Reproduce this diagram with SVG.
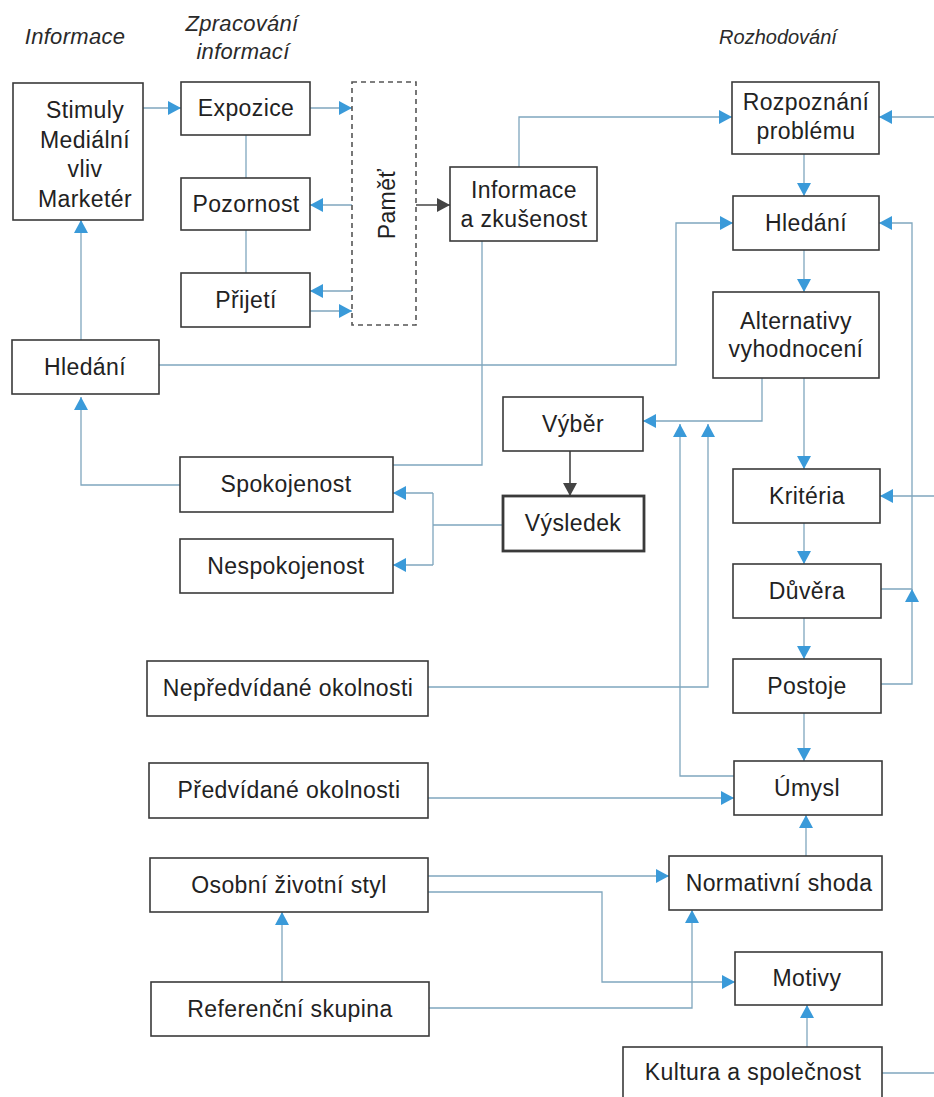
<svg xmlns="http://www.w3.org/2000/svg" width="934" height="1097" viewBox="0 0 934 1097">
<defs>
<style>
.box{fill:#fff;stroke:#3a3a3a;stroke-width:1.6}
.thick{stroke-width:2.8}
.dash{fill:#fff;stroke:#555;stroke-width:1.6;stroke-dasharray:5 4}
.t{font-family:"Liberation Sans",Arial,sans-serif;font-size:23px;fill:#222;text-anchor:middle;letter-spacing:0.4px}
.h{font-family:"Liberation Sans",Arial,sans-serif;font-size:22px;font-style:italic;fill:#2a2a2a;text-anchor:middle;letter-spacing:0.3px}
.c{fill:none;stroke:#7fa6be;stroke-width:1.3}
.a{marker-end:url(#ab)}
.d{fill:none;stroke:#444;stroke-width:1.6;marker-end:url(#ad)}
</style>
<marker id="ab" markerUnits="userSpaceOnUse" markerWidth="14" markerHeight="14" refX="13" refY="7" orient="auto"><path d="M0,0 L13,7 L0,14 z" fill="#3a9ad9"/></marker>
<marker id="ad" markerUnits="userSpaceOnUse" markerWidth="14" markerHeight="14" refX="13" refY="7" orient="auto"><path d="M0,0 L13,7 L0,14 z" fill="#444"/></marker>
</defs>
<rect width="934" height="1097" fill="#fff"/>

<g id="headers">
<text class="h" x="75" y="44">Informace</text>
<text class="h" x="242" y="31">Zpracování</text>
<text class="h" x="243" y="59">informací</text>
<text class="h" x="778" y="44" style="font-size:20px;letter-spacing:0">Rozhodování</text>
</g>

<g id="connectors">
<path class="c a" d="M143,108 H181"/>
<path class="c a" d="M310,108 H352"/>
<path class="c" d="M246,135 V178"/>
<path class="c" d="M246,230 V273"/>
<path class="c a" d="M352,205 H310"/>
<path class="c a" d="M352,291 H310"/>
<path class="c a" d="M310,311 H352"/>
<path class="d" d="M416,205 H450"/>
<path class="c a" d="M519,167 V117 H732"/>
<path class="c a" d="M934,117 H879"/>
<path class="c a" d="M804,154 V196"/>
<path class="c a" d="M159,365 H676 V223 H733"/>
<path class="c a" d="M804,250 V292"/>
<path class="c a" d="M762,378 V421 H643"/>
<path class="c a" d="M804,378 V469"/>
<path class="c a" d="M734,776 H680 V424"/>
<path class="c a" d="M428,687 H708 V424"/>
<path class="c" d="M482,241 V465 H393"/>
<path class="c a" d="M180,485 H81 V397"/>
<path class="c a" d="M81,340 V220"/>
<path class="d" d="M570,451 V496"/>
<path class="c" d="M503,525 H433 M433,493 V565"/>
<path class="c a" d="M433,493 H393"/>
<path class="c a" d="M433,565 H393"/>
<path class="c a" d="M934,496 H880"/>
<path class="c a" d="M804,523 V564"/>
<path class="c a" d="M804,618 V659"/>
<path class="c a" d="M804,713 V761"/>
<path class="c a" d="M881,684 H912 V589"/>
<path class="c a" d="M881,589 H912 V223 H879"/>
<path class="c a" d="M428,798 H734"/>
<path class="c a" d="M806,856 V815"/>
<path class="c a" d="M428,876 H669"/>
<path class="c a" d="M428,892 H602 V982 H735"/>
<path class="c a" d="M429,1008 H692 V910"/>
<path class="c a" d="M282,982 V912"/>
<path class="c a" d="M807,1047 V1005"/>
<path class="c" d="M882,1073 H934"/>
</g>

<g id="stimuly"><rect class="box" x="13" y="83" width="130" height="137"/>
<text class="t" x="85" y="118">Stimuly</text><text class="t" x="85" y="148">Mediální</text><text class="t" x="85" y="177">vliv</text><text class="t" x="85" y="207">Marketér</text></g>
<g id="expozice"><rect class="box" x="181" y="82" width="129" height="53"/><text class="t" x="246" y="116">Expozice</text></g>
<g id="pozornost"><rect class="box" x="181" y="178" width="129" height="52"/><text class="t" x="246" y="212">Pozornost</text></g>
<g id="prijeti"><rect class="box" x="181" y="273" width="129" height="54"/><text class="t" x="246" y="308">Přijetí</text></g>
<g id="pamet"><rect class="dash" x="352" y="82" width="64" height="243"/><text class="t" transform="translate(395,204) rotate(-90)" x="0" y="0">Paměť</text></g>
<g id="informace-zkusenost"><rect class="box" x="450" y="167" width="147" height="74"/><text class="t" x="524" y="198">Informace</text><text class="t" x="524" y="227">a zkušenost</text></g>
<g id="rozpoznani"><rect class="box" x="732" y="82" width="147" height="72"/><text class="t" x="806" y="110">Rozpoznání</text><text class="t" x="806" y="139">problému</text></g>
<g id="hledani-r"><rect class="box" x="733" y="196" width="146" height="54"/><text class="t" x="806" y="231">Hledání</text></g>
<g id="alternativy"><rect class="box" x="713" y="292" width="166" height="86"/><text class="t" x="796" y="329">Alternativy</text><text class="t" x="796" y="357">vyhodnocení</text></g>
<g id="hledani-l"><rect class="box" x="12" y="340" width="147" height="54"/><text class="t" x="85" y="375">Hledání</text></g>
<g id="spokojenost"><rect class="box" x="180" y="457" width="213" height="55"/><text class="t" x="286" y="492">Spokojenost</text></g>
<g id="nespokojenost"><rect class="box" x="180" y="539" width="213" height="54"/><text class="t" x="286" y="574">Nespokojenost</text></g>
<g id="vyber"><rect class="box" x="503" y="397" width="140" height="54"/><text class="t" x="573" y="432">Výběr</text></g>
<g id="vysledek"><rect class="box thick" x="503" y="496" width="141" height="55"/><text class="t" x="573" y="531">Výsledek</text></g>
<g id="kriteria"><rect class="box" x="733" y="469" width="147" height="54"/><text class="t" x="807" y="504">Kritéria</text></g>
<g id="duvera"><rect class="box" x="733" y="564" width="148" height="54"/><text class="t" x="807" y="599">Důvěra</text></g>
<g id="postoje"><rect class="box" x="733" y="659" width="148" height="54"/><text class="t" x="807" y="694">Postoje</text></g>
<g id="umysl"><rect class="box" x="734" y="761" width="148" height="54"/><text class="t" x="807" y="796">Úmysl</text></g>
<g id="normativni"><rect class="box" x="669" y="856" width="213" height="54"/><text class="t" x="779" y="891">Normativní shoda</text></g>
<g id="motivy"><rect class="box" x="735" y="952" width="147" height="53"/><text class="t" x="807" y="986">Motivy</text></g>
<g id="kultura"><rect class="box" x="623" y="1047" width="259" height="60"/><text class="t" x="753" y="1080">Kultura a společnost</text></g>
<g id="nepredvidane"><rect class="box" x="147" y="661" width="281" height="55"/><text class="t" x="288" y="696">Nepředvídané okolnosti</text></g>
<g id="predvidane"><rect class="box" x="149" y="763" width="279" height="55"/><text class="t" x="289" y="798">Předvídané okolnosti</text></g>
<g id="osobni"><rect class="box" x="150" y="858" width="278" height="54"/><text class="t" x="289" y="893">Osobní životní styl</text></g>
<g id="referencni"><rect class="box" x="151" y="982" width="278" height="54"/><text class="t" x="290" y="1017">Referenční skupina</text></g>
</svg>
